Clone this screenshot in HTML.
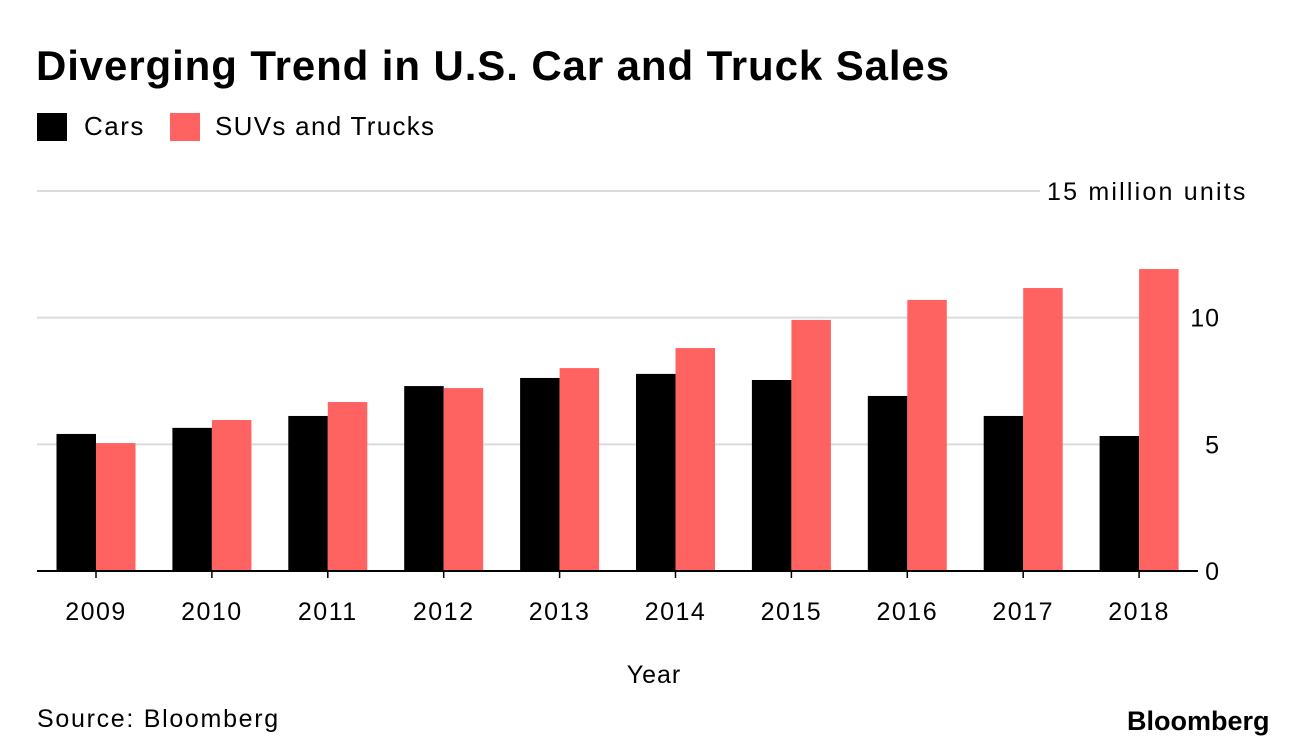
<!DOCTYPE html>
<html><head><meta charset="utf-8"><style>
body{margin:0;background:#fff;font-family:"Liberation Sans",sans-serif;}
#wrap{position:relative;width:1296px;height:752px;overflow:hidden;}
.t{position:absolute;white-space:nowrap;color:#000;}
</style></head><body>
<div id="wrap">
<div class="t" style="left:36px;top:42px;font-size:42px;font-weight:bold;letter-spacing:0.9px;">Diverging Trend in U.S. Car and Truck Sales</div>
<div style="position:absolute;left:37px;top:113px;width:30px;height:28px;background:#000;"></div>
<div class="t" style="left:84px;top:111px;font-size:26px;letter-spacing:1.5px;">Cars</div>
<div style="position:absolute;left:170px;top:113px;width:30px;height:28px;background:#ff6361;"></div>
<div class="t" style="left:215px;top:111px;font-size:26px;letter-spacing:1.3px;">SUVs and Trucks</div>
<svg id="chart" width="1296" height="752" style="position:absolute;left:0;top:0"></svg>
<div class="t" style="left:37px;top:705px;font-size:25px;letter-spacing:1.7px;">Source: Bloomberg</div>
<div class="t" style="left:1127px;top:706px;font-size:27px;font-weight:bold;letter-spacing:0px;">Bloomberg</div>
</div>
<script>
const years=["2009","2010","2011","2012","2013","2014","2015","2016","2017","2018"];
const cars=[5.41,5.65,6.12,7.30,7.62,7.78,7.54,6.91,6.12,5.33];
const suvs=[5.05,5.96,6.67,7.22,8.01,8.80,9.91,10.70,11.17,11.92];
const ticks=[0,5,10,15];
const tickLabels=["0","5","10","15 million units"];
const svg=document.getElementById('chart');
const NS="http://www.w3.org/2000/svg";
const y0=571,pxPer=(571-191)/15;
const y=v=>y0-v*pxPer;
const x=i=>96+i*115.9;
const bw=39.5;
function mk(tag,attrs){const e=document.createElementNS(NS,tag);for(const k in attrs)e.setAttribute(k,attrs[k]);svg.appendChild(e);return e;}
ticks.forEach((t,i)=>{
  if(t>0){const l=mk('line',{x1:37,x2:i===3?1040:1172,y1:y(t),y2:y(t),stroke:'#dcdcdc','stroke-width':2});
  
  }
  const top=i===3;
  const tx=mk('text',{x:top?1047:1220,y:y(t)+9,'text-anchor':top?'start':'end','font-size':25,'letter-spacing':top?2.2:1,'font-family':'Liberation Sans, sans-serif'});
  tx.textContent=tickLabels[i];
  
  
});
years.forEach((yr,i)=>{
  const c=mk('rect',{x:x(i)-bw,y:y(cars[i]),width:bw,height:y0-y(cars[i]),fill:'#000'});
  
  
  const s=mk('rect',{x:x(i),y:y(suvs[i]),width:bw,height:y0-y(suvs[i]),fill:'#ff6361'});
  
  
  const tk=mk('line',{x1:x(i),x2:x(i),y1:y0,y2:y0+7,stroke:'#000','stroke-width':1.5});
  
  
  const t=mk('text',{x:x(i),y:620,'text-anchor':'middle','font-size':25,'letter-spacing':1.5,'font-family':'Liberation Sans, sans-serif'});
  t.textContent=yr;
  
  
});
const ax=mk('line',{x1:37,x2:1198,y1:y0,y2:y0,stroke:'#000','stroke-width':2});


const xt=mk('text',{x:654,y:683,'text-anchor':'middle','font-size':25,'letter-spacing':1,'font-family':'Liberation Sans, sans-serif'});
xt.textContent="Year";


</script>
</body></html>
